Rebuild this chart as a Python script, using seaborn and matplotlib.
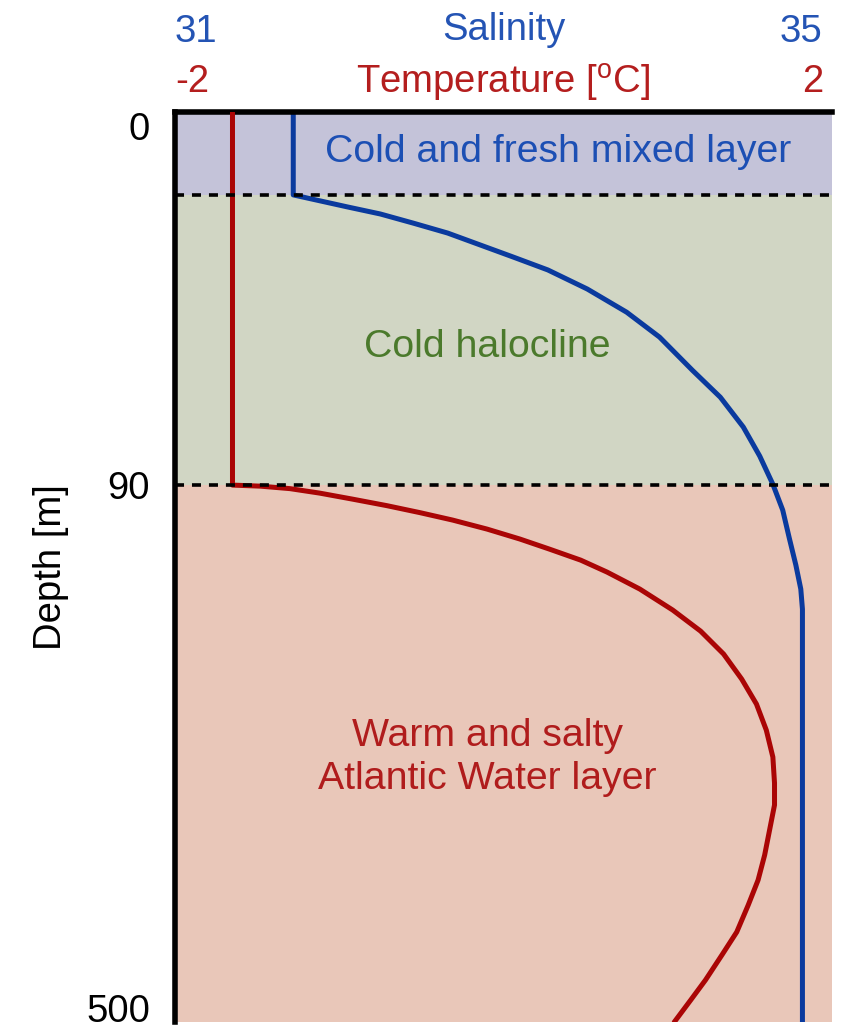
import numpy as np
import pandas as pd
import matplotlib
matplotlib.use("Agg")
import matplotlib.pyplot as plt
import seaborn as sns

# Schematic Arctic Ocean profile: depth [m] vs salinity and temperature
sal_depth = [0, 20, 22.9, 24.6, 26.8, 29.2, 32.1, 35.0, 38.1, 42.7, 48.3,
             54.3, 62.3, 68.8, 76.0, 83.0, 89.8, 109.1, 130.5, 151.1, 169.4,
             184.7, 203.8, 500]
salinity = [31.72, 31.72, 32.05, 32.25, 32.45, 32.66, 32.86, 33.06, 33.27,
            33.51, 33.75, 33.95, 34.15, 34.32, 34.46, 34.56, 34.64, 34.70,
            34.74, 34.78, 34.81, 34.82, 34.82, 34.82]

temp_depth = [0, 90, 90.8, 92.7, 96.1, 100.7, 105.7, 111.0, 116.7, 123.6,
              131.2, 138.9, 147.3, 156.4, 169.4, 185.4, 201.5, 219.0, 238.1,
              257.2, 277.1, 297.7, 317.5, 334.3, 353.4, 372.5, 391.6, 410.7,
              431.3, 448.8, 467.9, 483.2, 500]
temperature = [-1.65, -1.65, -1.48, -1.30, -1.12, -0.92, -0.71, -0.51, -0.31,
               -0.10, 0.10, 0.28, 0.47, 0.63, 0.83, 1.03, 1.20, 1.34, 1.45,
               1.54, 1.60, 1.64, 1.65, 1.65, 1.62, 1.59, 1.55, 1.49, 1.42,
               1.33, 1.23, 1.14, 1.04]

layer_bounds = [0, 20, 90, 500]
layer_names = ["Cold and fresh mixed layer", "Cold halocline",
               "Warm and salty\nAtlantic Water layer"]
depth_ticks = [0, 90, 500]
salinity_range = [31, 35]
temp_range = [-2, 2]

sal_df = pd.DataFrame({"depth": sal_depth, "salinity": salinity})
temp_df = pd.DataFrame({"depth": temp_depth, "temperature": temperature})

sns.set_style("white")
plt.rcParams["font.family"] = ["Liberation Sans", "DejaVu Sans"]
plt.rcParams["mathtext.fontset"] = "custom"
plt.rcParams["mathtext.rm"] = "Liberation Sans"
plt.rcParams["mathtext.it"] = "Liberation Sans:italic"
plt.rcParams["text.color"] = "black"
plt.rcParams["ytick.color"] = "black"
plt.rcParams["axes.labelcolor"] = "black"
FS = 27.5

band_colors = ["#c4c3d9", "#d1d6c4", "#e9c7b9"]
text_colors = ["#1c4fb4", "#4b7a2c", "#b01c1c"]
sal_color = "#0a3a9e"
temp_color = "#aa0505"
sal_label_color = "#2454b4"
temp_label_color = "#b41e1e"

W, H = 842, 1031
fig = plt.figure(figsize=(W / 100, H / 100), dpi=100)
ax = fig.add_axes([175 / W, 1 - 1022 / H, 657 / W, 910 / H])

# Upper 90 m is stretched over ~41% of the depth axis
UPPER = 0.41


def fwd(d):
    d = np.asarray(d, dtype=float)
    return np.where(d <= 90, d / 90 * UPPER, UPPER + (d - 90) / 410 * (1 - UPPER))


def inv(v):
    v = np.asarray(v, dtype=float)
    return np.where(v <= UPPER, v / UPPER * 90, 90 + (v - UPPER) / (1 - UPPER) * 410)


ax.set_yscale("function", functions=(fwd, inv))
ax.set_ylim(layer_bounds[-1], layer_bounds[0])
ax.set_xlim(*salinity_range)

# Layer shading
for top, bot, col in zip(layer_bounds[:-1], layer_bounds[1:], band_colors):
    ax.axhspan(top, bot, color=col, lw=0, zorder=0)

sns.lineplot(data=sal_df, x="salinity", y="depth", orient="y", sort=False,
             estimator=None, color=sal_color, lw=3.6, ax=ax, zorder=3)

ax2 = ax.twiny()
ax2.set_xlim(*temp_range)
sns.lineplot(data=temp_df, x="temperature", y="depth", orient="y", sort=False,
             estimator=None, color=temp_color, lw=3.6, ax=ax2, zorder=3)
ax2.set_ylim(layer_bounds[-1], layer_bounds[0])
ax2.patch.set_visible(False)

# Layer boundaries
for b in layer_bounds[1:-1]:
    ax2.axhline(b, color="black", lw=2.6, dashes=(2.5, 2.2), zorder=5)

for a in (ax, ax2):
    a.set_xlabel("")
    a.set_xticks([])

for s in ["right", "bottom"]:
    ax.spines[s].set_visible(False)
for s in ["left", "top"]:
    ax.spines[s].set_linewidth(4)
    ax.spines[s].set_color("black")
    ax.spines[s].set_zorder(6)
for s in ax2.spines.values():
    s.set_visible(False)

# Depth axis
ax.set_yticks(depth_ticks)
ax.yaxis.set_minor_locator(matplotlib.ticker.NullLocator())
ax.set_yticklabels([str(t) for t in depth_ticks], fontsize=FS)
ax.tick_params(axis="y", length=0, pad=18)
for lab, va in zip(ax.get_yticklabels(), ["top", "center_baseline", "baseline"]):
    lab.set_va(va)
ax2.set_ylabel("")
ax2.tick_params(axis="y", length=0, labelleft=False, labelright=False)
ax.set_ylabel("Depth [m]", fontsize=FS, labelpad=12)

# Top scale labels
tr = ax.transAxes
ax.text(0.0, 1.092, str(salinity_range[0]), transform=tr, ha="left",
        va="center_baseline", fontsize=FS, color=sal_label_color)
ax.text(0.986, 1.092, str(salinity_range[1]), transform=tr, ha="right",
        va="center_baseline", fontsize=FS, color=sal_label_color)
ax.text(0.5, 1.094, "Salinity", transform=tr, ha="center",
        va="center_baseline", fontsize=FS, color=sal_label_color)
ax.text(0.0, 1.037, str(temp_range[0]), transform=tr, ha="left",
        va="center_baseline", fontsize=FS, color=temp_label_color)
ax.text(0.986, 1.037, str(temp_range[1]), transform=tr, ha="right",
        va="center_baseline", fontsize=FS, color=temp_label_color)
ax.text(0.5, 1.037, r"Temperature [$^{\mathrm{o}}$C]", transform=tr,
        ha="center", va="center_baseline", fontsize=FS, color=temp_label_color)

# Layer names
label_pos = [(0.583, 0.956), (0.475, 0.742), (0.475, 0.291)]
for name, (x, y), col in zip(layer_names, label_pos, text_colors):
    ax2.text(x, y, name, transform=ax2.transAxes, ha="center", va="center",
             fontsize=FS + 0.8, color=col, linespacing=1.25, zorder=4)

fig.savefig("out.png", dpi=100)
